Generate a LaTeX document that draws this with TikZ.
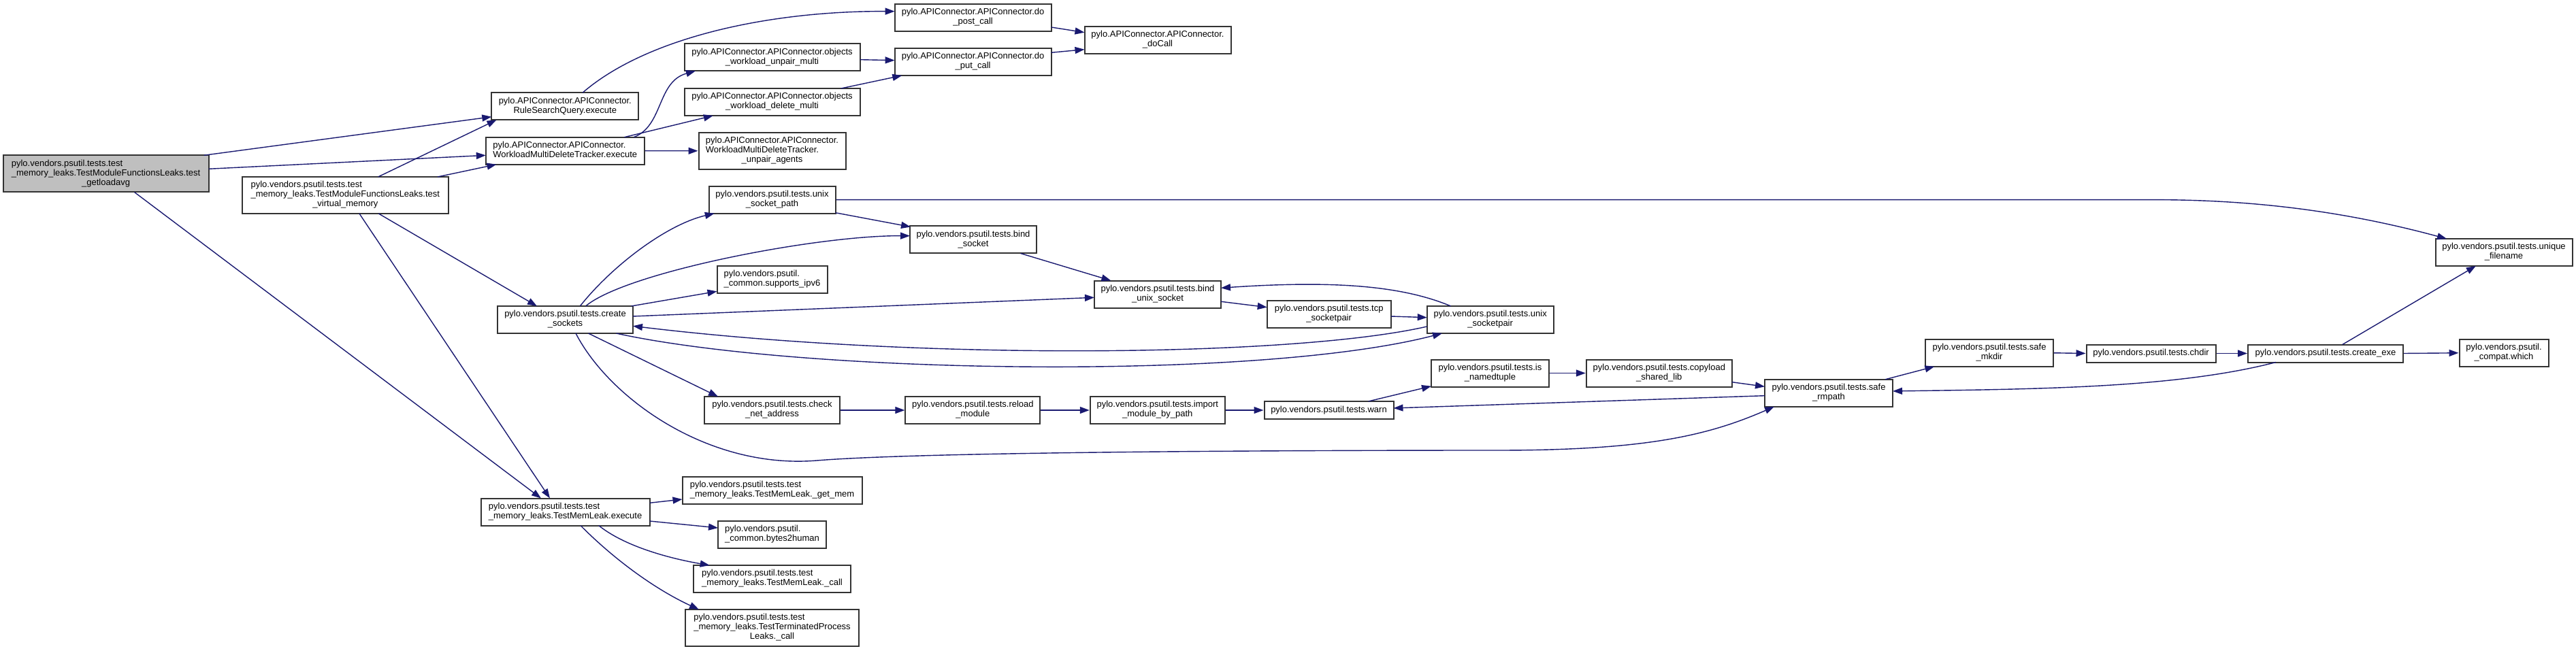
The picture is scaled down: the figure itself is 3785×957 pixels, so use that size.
\documentclass[tikz,border=0pt]{standalone}
\usepackage{fontspec}
\setmainfont{Liberation Sans}
\usetikzlibrary{arrows.meta,calc}
\definecolor{midblue}{HTML}{191970}
\definecolor{nodegray}{HTML}{BFBFBF}
\newcommand{\lab}[2]{\begin{tabular}{@{}l@{}}#1\\\multicolumn{1}{@{}c@{}}{#2}\end{tabular}}
\tikzset{
  box/.style={draw=black!80, line width=2pt, fill=white, inner sep=0pt, minimum height=40pt, font=\fontsize{13}{14}\selectfont},
  edge/.style={draw=midblue, line width=1.4pt, -{Triangle[length=14pt,width=10pt]}},
}
\begin{document}
\begin{tikzpicture}[x=1pt,y=-1pt]
\useasboundingbox (0,0) rectangle (3785,957);
% column 1
\node[box, fill=nodegray, minimum width=302pt, minimum height=54pt] (main) at (155.6,255.5) {\lab{pylo.vendors.psutil.tests.test\\\_memory\_leaks.TestModuleFunctionsLeaks.test}{\_getloadavg}};
\node[box, minimum width=303pt, minimum height=54pt] (virt) at (507.3,287) {\lab{pylo.vendors.psutil.tests.test\\\_memory\_leaks.TestModuleFunctionsLeaks.test}{\_virtual\_memory}};
% column 2
\node[box, minimum width=216pt] (rsq) at (830.3,156.3) {\lab{pylo.APIConnector.APIConnector.}{RuleSearchQuery.execute}};
\node[box, minimum width=233pt] (wmdt) at (830.3,221.7) {\lab{pylo.APIConnector.APIConnector.}{WorkloadMultiDeleteTracker.execute}};
\node[box, minimum width=199pt] (cs) at (830.5,470) {\lab{pylo.vendors.psutil.tests.create}{\_sockets}};
\node[box, minimum width=248pt] (tml) at (830.6,752.5) {\lab{pylo.vendors.psutil.tests.test}{\_memory\_leaks.TestMemLeak.execute}};
% column 3
\node[box, minimum width=258pt] (oum) at (1134.5,84.3) {\lab{pylo.APIConnector.APIConnector.objects}{\_workload\_unpair\_multi}};
\node[box, minimum width=258pt] (odm) at (1134.5,150) {\lab{pylo.APIConnector.APIConnector.objects}{\_workload\_delete\_multi}};
\node[box, minimum width=216pt, minimum height=54pt] (ua) at (1134.5,221.8) {\lab{pylo.APIConnector.APIConnector.\\WorkloadMultiDeleteTracker.}{\_unpair\_agents}};
\node[box, minimum width=186pt] (usp) at (1134.5,293.7) {\lab{pylo.vendors.psutil.tests.unix}{\_socket\_path}};
\node[box, minimum width=162pt] (ipv) at (1134.5,411) {\lab{pylo.vendors.psutil.}{\_common.supports\_ipv6}};
\node[box, minimum width=199pt] (cna) at (1134.5,603) {\lab{pylo.vendors.psutil.tests.check}{\_net\_address}};
\node[box, minimum width=264pt] (gm) at (1134.5,720.7) {\lab{pylo.vendors.psutil.tests.test}{\_memory\_leaks.TestMemLeak.\_get\_mem}};
\node[box, minimum width=159pt] (bh) at (1134.5,786) {\lab{pylo.vendors.psutil.}{\_common.bytes2human}};
\node[box, minimum width=231pt] (mlc) at (1134.5,851) {\lab{pylo.vendors.psutil.tests.test}{\_memory\_leaks.TestMemLeak.\_call}};
\node[box, minimum width=255pt, minimum height=54pt] (tpl) at (1134.5,923) {\lab{pylo.vendors.psutil.tests.test\\\_memory\_leaks.TestTerminatedProcess}{Leaks.\_call}};
% column 4
\node[box, minimum width=230pt] (dpost) at (1429.6,25.8) {\lab{pylo.APIConnector.APIConnector.do}{\_post\_call}};
\node[box, minimum width=230pt] (dput) at (1429.6,91) {\lab{pylo.APIConnector.APIConnector.do}{\_put\_call}};
\node[box, minimum width=186pt] (bs) at (1430,352.5) {\lab{pylo.vendors.psutil.tests.bind}{\_socket}};
\node[box, minimum width=198pt] (rm) at (1429.4,603) {\lab{pylo.vendors.psutil.tests.reload}{\_module}};
% column 5
\node[box, minimum width=215pt] (dc) at (1701,59.2) {\lab{pylo.APIConnector.APIConnector.}{\_doCall}};
\node[box, minimum width=186pt] (bus) at (1701,432.5) {\lab{pylo.vendors.psutil.tests.bind}{\_unix\_socket}};
\node[box, minimum width=198pt] (imp) at (1700.8,603) {\lab{pylo.vendors.psutil.tests.import}{\_module\_by\_path}};
% column 6+
\node[box, minimum width=182pt] (tcp) at (1952.7,461.8) {\lab{pylo.vendors.psutil.tests.tcp}{\_socketpair}};
\node[box, minimum width=190pt, minimum height=26pt] (warn) at (1952.5,603) {pylo.vendors.psutil.tests.warn};
\node[box, minimum width=186pt] (usk) at (2189.7,470) {\lab{pylo.vendors.psutil.tests.unix}{\_socketpair}};
\node[box, minimum width=173pt] (isn) at (2189.4,548.5) {\lab{pylo.vendors.psutil.tests.is}{\_namedtuple}};
\node[box, minimum width=214pt] (csl) at (2437.8,548.5) {\lab{pylo.vendors.psutil.tests.copyload}{\_shared\_lib}};
\node[box, minimum width=188pt] (srm) at (2687,577.8) {\lab{pylo.vendors.psutil.tests.safe}{\_rmpath}};
\node[box, minimum width=188pt] (smk) at (2923,518.8) {\lab{pylo.vendors.psutil.tests.safe}{\_mkdir}};
\node[box, minimum width=190pt, minimum height=26pt] (chd) at (3160.5,519.5) {pylo.vendors.psutil.tests.chdir};
\node[box, minimum width=228pt, minimum height=26pt] (cex) at (3417,519.5) {pylo.vendors.psutil.tests.create\_exe};
\node[box, minimum width=201pt] (uf) at (3679,371) {\lab{pylo.vendors.psutil.tests.unique}{\_filename}};
\node[box, minimum width=131pt] (wh) at (3679,518.8) {\lab{pylo.vendors.psutil.}{\_compat.which}};
% edges
\draw[edge] ($(main)+(144,-27.2)$) -- ($(rsq)+(-108,15.4)$);
\draw[edge] ($(virt)+(48.3,-27)$) -- ($(rsq)+(-100.8,20)$);
\draw[edge] ($(main)+(151,-7.2)$) -- ($(wmdt)+(-116.5,6.6)$);
\draw[edge] ($(virt)+(135.7,-27)$) -- ($(wmdt)+(-100.8,20)$);
\draw[edge] ($(main)+(41.9,27)$) -- ($(tml)+(-35.6,-20)$);
\draw[edge] ($(virt)+(20.7,27)$) -- ($(tml)+(-22.6,-20)$);
\draw[edge] ($(virt)+(49,27)$) -- ($(cs)+(-41.5,-20)$);
\draw[edge] ($(rsq)+(25.7,-20)$) .. controls (950,55) and (1130,16) .. ($(dpost)+(-115,-9.1)$);
\draw[edge] ($(wmdt)+(100.9,-20)$) .. controls (975,185) and (965,120) .. ($(oum)+(-112.5,20)$);
\draw[edge] ($(wmdt)+(87.1,-20)$) -- ($(odm)+(-86.7,20)$);
\draw[edge] (wmdt.east) -- (ua.west);
\draw[edge] ($(oum)+(129,3.4)$) -- ($(dput)+(-115,-2.3)$);
\draw[edge] ($(odm)+(101.3,-20)$) -- ($(dput)+(-104.3,20)$);
\draw[edge] ($(dpost)+(115,14.2)$) -- ($(dc)+(-107.5,-11.5)$);
\draw[edge] ($(dput)+(115,-13.7)$) -- ($(dc)+(-107.5,13.5)$);
\draw[edge] ($(cs)+(21.8,-20)$) .. controls (900,390) and (980,330) .. ($(usp)+(-84.7,20)$);
\draw[edge] ($(cs)+(30,-20)$) .. controls (920,400) and (1200,346) .. ($(bs)+(-93,-5.8)$);
\draw[edge] ($(cs)+(97,-20)$) -- ($(ipv)+(-81,17.3)$);
\draw[edge] ($(cs)+(99.5,-5)$) -- ($(bus)+(-93,4.8)$);
\draw[edge] ($(usk)+(-93,10)$) .. controls (1900,525) and (1350,530) .. ($(cs)+(99.5,9.3)$);
\draw[edge] ($(cs)+(74.9,20)$) .. controls (1180,550) and (1850,560) .. ($(usk)+(-70.7,20)$);
\draw[edge] (usp.east) -- (3180,293.7) .. controls (3350,295) and (3480,320) .. ($(uf)+(-84,-20)$);
\draw[edge] ($(usp)+(93,19)$) -- ($(bs)+(-92,-19)$);
\draw[edge] ($(bs)+(69.6,20)$) -- ($(bus)+(-68.6,-20)$);
\draw[edge] ($(bus)+(93,10.8)$) -- ($(tcp)+(-91,-10.1)$);
\draw[edge] ($(usk)+(-58,-20)$) .. controls (2060,420) and (1960,412) .. ($(bus)+(93,-9.2)$);
\draw[edge] ($(tcp)+(91,3.2)$) -- ($(usk)+(-93,-3.3)$);
\draw[edge] ($(cs)+(34,20)$) -- ($(cna)+(-79.5,-20)$);
\draw[edge] ($(cs)+(15.5,20)$) .. controls (895,585) and (1040,690) .. (1200,677) .. controls (1360,664) and (1900,662) .. (2200,662) .. controls (2420,662) and (2510,640) .. ($(srm)+(-80,20)$);
\draw[edge] (cna.east) -- (rm.west);
\draw[edge] (rm.east) -- (imp.west);
\draw[edge] (imp.east) -- (warn.west);
\draw[edge] ($(warn)+(58,-13)$) -- ($(isn)+(-86.4,19.2)$);
\draw[edge] (isn.east) -- (csl.west);
\draw[edge] ($(csl)+(107,13.2)$) -- ($(srm)+(-94,-9.5)$);
\draw[edge] ($(srm)+(-94,3.9)$) -- ($(warn)+(95,-3)$);
\draw[edge] ($(srm)+(83,-20)$) -- ($(smk)+(-80.6,20)$);
\draw[edge] (smk.east) -- (chd.west);
\draw[edge] (chd.east) -- (cex.west);
\draw[edge] (cex.east) -- (wh.west);
\draw[edge] ($(cex)+(24.8,-13)$) -- ($(uf)+(-41.2,20)$);
\draw[edge] ($(cex)+(-73,13)$) .. controls (3200,570) and (3000,572) .. ($(srm)+(94,-2.8)$);
\draw[edge] ($(tml)+(124,-13.2)$) -- ($(gm)+(-132,13.3)$);
\draw[edge] ($(tml)+(124,13.5)$) -- ($(bh)+(-79.5,-10)$);
\draw[edge] ($(tml)+(49.1,20)$) .. controls (920,805) and (990,822) .. ($(mlc)+(-91.8,-20)$);
\draw[edge] ($(tml)+(22.4,20)$) .. controls (900,820) and (960,865) .. ($(tpl)+(-107.5,-27)$);
\end{tikzpicture}
\end{document}
